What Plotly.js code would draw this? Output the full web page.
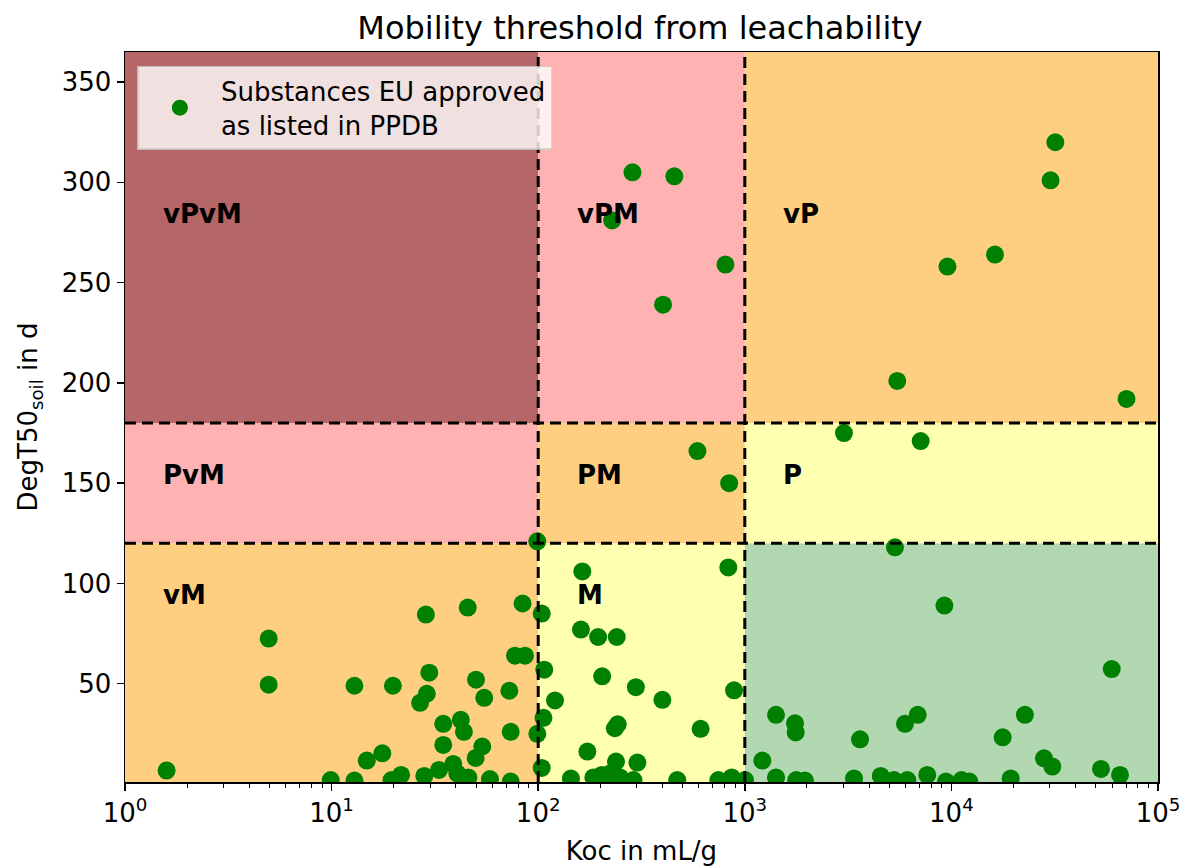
<!DOCTYPE html>
<html><head><meta charset="utf-8">
<script src="https://cdn.plot.ly/plotly-3.0.1.min.js"></script>
<style>html,body{margin:0;padding:0;background:#fff}#chart{width:1182px;height:866px}</style>
</head><body><div id="chart"></div><script>
// ---- data ----
const koc = [
  286, 456, 228, 806, 402,
  31850, 30200, 9570, 16250, 5470, 70400,
  3020, 7100, 590, 840,
  99, 5330, 9250,
  28.6, 45.6, 84, 104, 4.96, 4.96, 1.59, 12.9, 19.8, 29.7, 28.9, 26.8, 50, 54.8, 77.2, 86.3, 72.5,
  107, 120.6, 106, 99, 104, 34.7, 42.2, 43.7, 34.7, 73.6, 53.6, 49.8, 14.8, 17.6, 21.7, 19.5, 28.1,
  33.1, 38.8, 40.6, 45.9, 9.9, 12.9, 58.4, 73.6,
  163.5, 832, 161, 195, 240, 204, 297, 399, 887, 242.6, 235, 611, 173, 238, 302,
  144, 185, 203, 223, 249, 289, 471, 745, 864, 1002,
  59700, 1416, 1750, 1763, 3612, 5960, 6870, 22700, 17710, 28060, 30790, 52970, 65480,
  1216, 1416, 1775, 1955, 3379, 4549, 5273, 6118, 7641, 9415, 11210, 12210, 19360
];
const dt50 = [
  305, 303, 281, 259, 239,
  320, 301, 258, 264, 201, 192,
  175, 171, 166, 150,
  121, 118, 89,
  84.5, 88, 90, 85, 72.5, 49.5, 6.7, 49, 49, 55.5, 45, 40.5, 52, 43, 64, 64, 46.5,
  57, 41.7, 33, 25, 8, 30, 32, 26, 19.5, 26, 18.7, 13, 11.7, 15.3, 4.5, 2, 4,
  7, 10, 5.3, 3.3, 2, 1.7, 2.5, 1.2,
  106, 108, 77, 73.3, 73.3, 53.7, 48.3, 42, 46.7, 29.8, 27.8, 27.5, 16.2, 11.2, 10.7,
  2.8, 3.3, 4.5, 5.3, 3.3, 2, 2, 2, 3.3, 2,
  57.3, 34.5, 30.3, 25.7, 22.3, 30, 34.5, 34.5, 23.3, 12.8, 8.7, 7.5, 4.5,
  11.7, 3.3, 2, 1.7, 2.8, 4, 2, 2, 4.5, 1.2, 2, 1.2, 2.8
];
const seriesName = "Substances EU approved<br>as listed in PPDB";
const kocThresholds = [1, 100, 1000, 100000];
const dtThresholds = [1, 120, 180, 365];
// rows: dt bands (low -> high), cols: koc bands (low -> high)
const regionNames = [["vM", "M", ""], ["PvM", "PM", "P"], ["vPvM", "vPM", "vP"]];
const xTickVals = [1, 10, 100, 1000, 10000, 100000];
const xTickText = ["10<sup>0</sup>", "10<sup>1</sup>", "10<sup>2</sup>", "10<sup>3</sup>", "10<sup>4</sup>", "10<sup>5</sup>"];
const yTickVals = [50, 100, 150, 200, 250, 300, 350];

// ---- styles ----
const regionColors = [
  ["#fecf80", "#ffffb2", "#b2d8b2"],
  ["#ffb2b2", "#fecf80", "#ffffb2"],
  ["#b56666", "#ffb2b2", "#fecf80"]
];
const labelX = [1.5, 150, 1500];
const labelY = [94, 154, 284];
const FONT = "DejaVu Sans, sans-serif";
const FS = 26;

const shapes = [];
const annotations = [];
for (let r = 0; r < 3; r++) {
  for (let c = 0; c < 3; c++) {
    shapes.push({
      type: "rect", xref: "x", yref: "y", layer: "below",
      x0: kocThresholds[c], x1: kocThresholds[c + 1],
      y0: dtThresholds[r], y1: dtThresholds[r + 1],
      fillcolor: regionColors[r][c], line: {width: 0}
    });
    if (regionNames[r][c]) {
      annotations.push({
        xref: "x", yref: "y", x: Math.log10(labelX[c]), y: labelY[r],
        text: "<b>" + regionNames[r][c] + "</b>", showarrow: false,
        xanchor: "left", yanchor: "middle",
        font: {family: FONT, size: FS, color: "black"}
      });
    }
  }
}
const dashStyle = {color: "black", width: 3, dash: "11px,6px"};
for (const k of kocThresholds.slice(1, 3)) {
  shapes.push({type: "line", xref: "x", yref: "paper", x0: k, x1: k, y0: 0, y1: 1, layer: "above", line: dashStyle});
}
for (const d of dtThresholds.slice(1, 3)) {
  shapes.push({type: "line", xref: "paper", yref: "y", x0: 0, x1: 1, y0: d, y1: d, layer: "above", line: dashStyle});
}

const minorVals = [];
for (let e = 0; e < 5; e++) for (let m = 2; m <= 9; m++) minorVals.push(m * Math.pow(10, e));

const trace = {
  x: koc, y: dt50, type: "scatter", mode: "markers", name: seriesName,
  marker: {color: "#008000", size: 18}, showlegend: true
};

const layout = {
  width: 1182, height: 866,
  margin: {l: 125, r: 24, t: 52, b: 84},
  paper_bgcolor: "white", plot_bgcolor: "white",
  font: {family: FONT, size: FS, color: "black"},
  title: {text: "Mobility threshold from leachability", x: 0.5415, xanchor: "center", y: 0.968, yanchor: "middle",
          font: {family: FONT, size: 32, color: "black"}},
  xaxis: {
    type: "log", range: [0, 5], tickmode: "array", tickvals: xTickVals, ticktext: xTickText,
    ticks: "outside", ticklen: 7, tickwidth: 1.5, tickcolor: "black",
    showline: true, mirror: true, linecolor: "black", linewidth: 1.5,
    showgrid: false, zeroline: false,
    minor: {tickmode: "array", tickvals: minorVals, ticks: "outside", ticklen: 4, tickwidth: 1, tickcolor: "black", showgrid: false},
    tickfont: {family: FONT, size: FS, color: "black"},
    title: {text: "Koc in mL/g", font: {family: FONT, size: FS, color: "black"}, standoff: 16}
  },
  yaxis: {
    range: [1, 365], tickmode: "array", tickvals: yTickVals,
    ticks: "outside", ticklen: 7, tickwidth: 1.5, tickcolor: "black",
    showline: true, mirror: true, linecolor: "black", linewidth: 1.5,
    showgrid: false, zeroline: false,
    tickfont: {family: FONT, size: FS, color: "black"},
    title: {text: "DegT50<sub>soil</sub> in d", font: {family: FONT, size: FS, color: "black"}, standoff: 16}
  },
  showlegend: true,
  legend: {
    x: 0.012, y: 0.981, xanchor: "left", yanchor: "top",
    bgcolor: "rgba(255,255,255,0.8)", bordercolor: "rgba(204,204,204,0.8)", borderwidth: 1.5,
    itemwidth: 72, font: {family: FONT, size: FS, color: "black"}
  },
  shapes: shapes,
  annotations: annotations
};

Plotly.newPlot("chart", [trace], layout, {staticPlot: true, displayModeBar: false});
</script></body></html>
